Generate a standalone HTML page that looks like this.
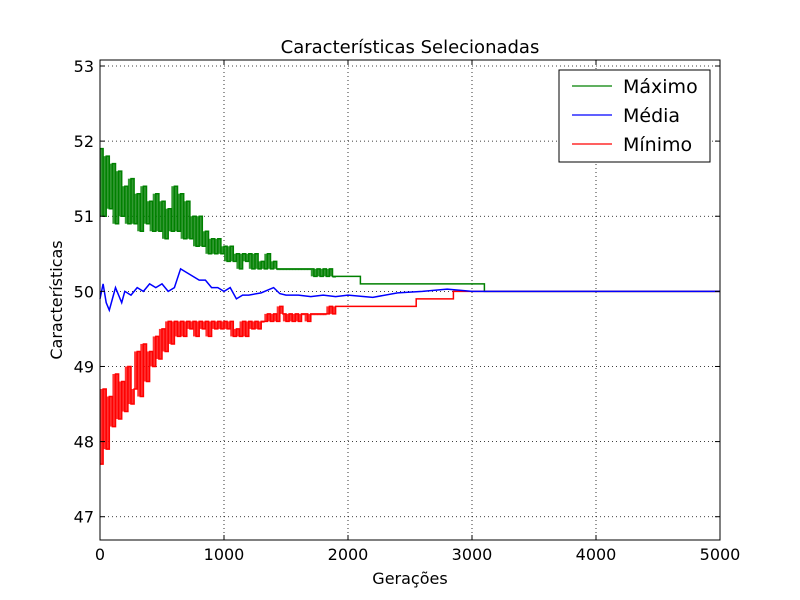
<!DOCTYPE html>
<html><head><meta charset="utf-8">
<style>
body{margin:0;background:#fff;}
svg{display:block;font-family:"DejaVu Sans","Liberation Sans",sans-serif;}
</style></head>
<body>
<svg id="chart" width="800" height="600" viewBox="0 0 800 600">
<rect x="0" y="0" width="800" height="600" fill="#fff"/>
<g id="grid"></g>
<g id="series"></g>
<rect x="100" y="60" width="620" height="480" fill="none" stroke="#000" stroke-width="1"/>
<g id="ticks"></g>
<text x="410" y="53" font-size="18" text-anchor="middle">Características Selecionadas</text>
<text x="410" y="584" font-size="16" text-anchor="middle">Gerações</text>
<text x="62" y="300" font-size="16" text-anchor="middle" transform="rotate(-90 62 300)">Características</text>
<g>
<rect x="559" y="70" width="151" height="92" fill="#fff" stroke="#000" stroke-width="1"/>
<line x1="572" y1="86" x2="612" y2="86" stroke="green" stroke-width="1.2"/>
<text x="623" y="93" font-size="19">Máximo</text>
<line x1="572" y1="115" x2="612" y2="115" stroke="blue" stroke-width="1.2"/>
<text x="623" y="122" font-size="19">Média</text>
<line x1="572" y1="144" x2="612" y2="144" stroke="red" stroke-width="1.2"/>
<text x="623" y="151" font-size="19">Mínimo</text>
</g>
</svg>
<script>
const xTicks = [0, 1000, 2000, 3000, 4000, 5000];
const yTicks = [47, 48, 49, 50, 51, 52, 53];
const noisyStep = 25;
const maxNoisy = [51.9,51.0,51.8,51.1,51.7,50.9,51.6,51.0,51.4,50.9,51.5,
 50.9,51.3,50.8,51.4,50.9,51.2,50.8,51.3,50.8,51.2,50.7,51.1,50.8,51.4,
 50.8,51.3,50.7,51.2,50.7,51.0,50.6,51.0,
 50.6,50.8,50.5,50.7,50.5,50.7,50.5,50.6,
 50.4,50.6,50.4,50.5,50.3,50.5,50.4,50.5,
 50.3,50.5,50.3,50.4,50.3,50.5,50.3,50.4,50.3,50.3,
 50.3,50.3,50.3,50.3,50.3,50.3,50.3,50.3,50.3,50.3,
 50.2,50.3,50.2,50.3,50.2,50.3,50.2,50.2];
const maxTailGens = [1950, 2100, 3100, 5000];
const maxTailVals = [50.2, 50.1, 50.0, 50.0];
const minNoisy = [47.7,48.7,47.9,48.6,48.2,48.9,48.3,48.8,48.4,49.0,48.5,
 48.7,49.2,48.6,49.3,48.8,49.2,49.0,49.4,49.1,49.5,49.2,49.6,49.3,49.6,
 49.4,49.6,49.4,49.6,49.5,49.6,49.4,49.6,
 49.5,49.6,49.4,49.6,49.5,49.6,49.5,49.6,
 49.5,49.6,49.4,49.5,49.4,49.6,49.4,49.6,
 49.5,49.6,49.5,49.6,49.6,49.7,49.6,49.7,49.6,49.8,
 49.7,49.6,49.7,49.6,49.7,49.6,49.7,49.7,49.6,49.7,
 49.7,49.7,49.7,49.7,49.7,49.8,49.7,49.8];
const minTailGens = [1950, 2550, 2850, 5000];
const minTailVals = [49.8, 49.9, 50.0, 50.0];
const meanGens = [0,25,50,75,100,125,150,175,200,250,300,350,400,450,500,550,600,650,700,750,800,850,900,950,1000,1050,1100,1150,1200,1300,1400,1450,1500,1600,1700,1800,1900,2000,2200,2400,2600,2800,3000,5000];
const meanVals = [49.9,50.1,49.85,49.75,49.9,50.05,49.95,49.85,50.0,49.95,50.05,50.0,50.1,50.05,50.1,50.0,50.05,50.3,50.25,50.2,50.15,50.15,50.05,50.05,50.0,50.05,49.9,49.95,49.95,49.98,50.05,49.97,49.95,49.95,49.93,49.95,49.93,49.95,49.92,49.98,50.0,50.03,50.0,50.0];

const X0=100, X1=720, Y0=540, Y1=60, XMIN=0, XMAX=5000, YMIN=46.69, YMAX=53.08;
const sx = v => X0 + (v - XMIN) / (XMAX - XMIN) * (X1 - X0);
const sy = v => Y0 - (v - YMIN) / (YMAX - YMIN) * (Y0 - Y1);
const NS = "http://www.w3.org/2000/svg";
const grid = document.getElementById('grid');
const ticks = document.getElementById('ticks');
const series = document.getElementById('series');
function mk(tag, attrs, parent){ const e=document.createElementNS(NS,tag); for(const k in attrs) e.setAttribute(k,attrs[k]); parent.appendChild(e); return e; }

xTicks.forEach(t=>{
  const x=sx(t);
  const g=mk('line',{x1:x,y1:Y1,x2:x,y2:Y0,stroke:'#000','stroke-width':0.8,'stroke-dasharray':'1,3'},grid);
  
  
  mk('line',{x1:x,y1:Y0,x2:x,y2:Y0-5,stroke:'#000'},ticks);
  mk('line',{x1:x,y1:Y1,x2:x,y2:Y1+5,stroke:'#000'},ticks);
  const l=mk('text',{x:x,y:Y0+20,'font-size':16,'text-anchor':'middle'},ticks);
  l.textContent=t;
  
  
});
yTicks.forEach(t=>{
  const y=sy(t);
  const g=mk('line',{x1:X0,y1:y,x2:X1,y2:y,stroke:'#000','stroke-width':0.8,'stroke-dasharray':'1,3'},grid);
  
  
  mk('line',{x1:X0,y1:y,x2:X0+5,y2:y,stroke:'#000'},ticks);
  mk('line',{x1:X1,y1:y,x2:X1-5,y2:y,stroke:'#000'},ticks);
  const l=mk('text',{x:X0-6,y:y+6,'font-size':16,'text-anchor':'end'},ticks);
  l.textContent=t;
  
  
});

function stepPath(gens, vals){
  let d='';
  for(let i=0;i<gens.length;i++){
    const x=sx(gens[i]), y=sy(vals[i]);
    if(i===0) d+='M'+x+','+y;
    else d+='H'+x+'V'+y;
  }
  return d;
}
function build(noisy, tg, tv){
  const g=[], v=[];
  noisy.forEach((val,i)=>{ g.push(i*noisyStep); v.push(val); });
  tg.forEach((gg,i)=>{ g.push(gg); v.push(tv[i]); });
  return [g,v];
}
// dense noise band: fills between consecutive noisy samples
function band(noisy, color, name){
  const grp=mk('g',{},series);
  
  
  for(let i=0;i<noisy.length-1;i++){
    const a=noisy[i], b=noisy[i+1];
    const lo=Math.min(a,b), hi=Math.max(a,b);
    const x=sx(i*noisyStep), w=sx((i+1)*noisyStep)-x;
    mk('rect',{x:x,y:sy(hi),width:w+0.3,height:Math.max(sy(lo)-sy(hi),1.3),fill:color,'fill-opacity':0.8},grp);
  }
}
band(maxNoisy,'green','band-maximo');
band(minNoisy,'red','band-minimo');
const [mg,mv]=build(maxNoisy,maxTailGens,maxTailVals);
const pMax=mk('path',{d:stepPath(mg,mv),fill:'none',stroke:'green','stroke-width':1.5},series);


const [ng,nv]=build(minNoisy,minTailGens,minTailVals);
const pMin=mk('path',{d:stepPath(ng,nv),fill:'none',stroke:'red','stroke-width':1.5},series);


const pMean=mk('polyline',{points:meanGens.map((g,i)=>sx(g)+','+sy(meanVals[i])).join(' '),fill:'none',stroke:'blue','stroke-width':1.5},series);


</script>
</body></html>
